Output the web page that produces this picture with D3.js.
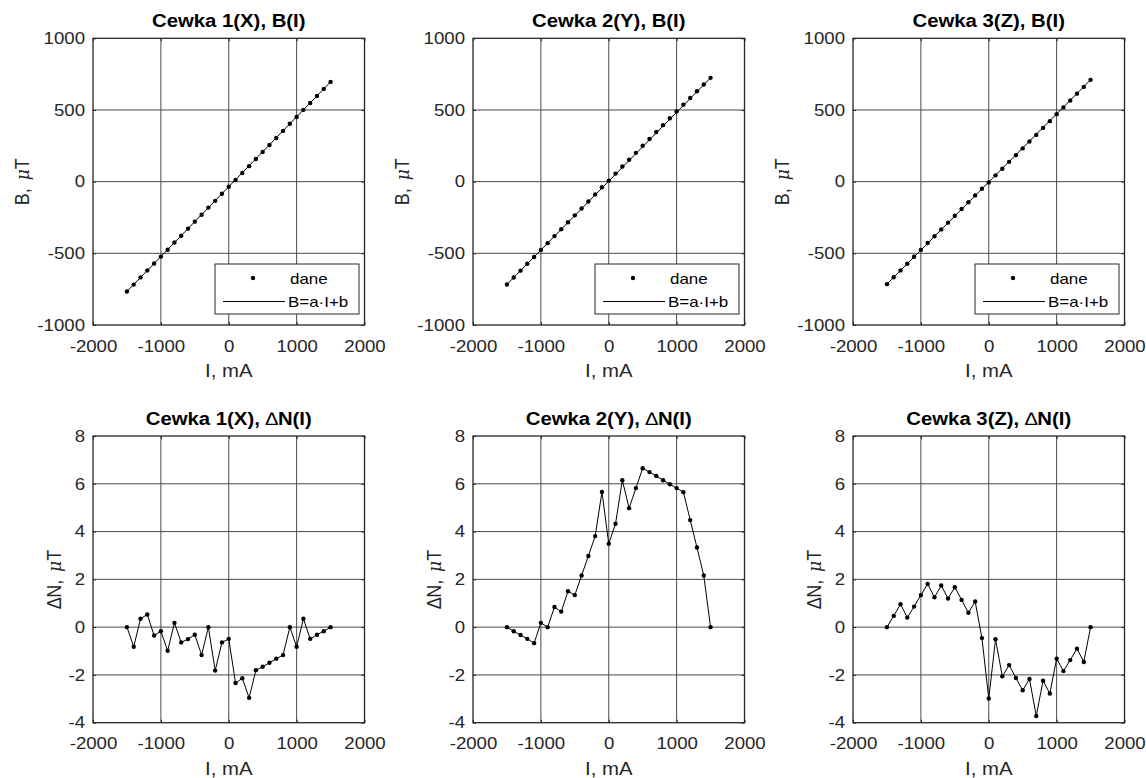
<!DOCTYPE html>
<html>
<head>
<meta charset="utf-8">
<script src="https://cdn.jsdelivr.net/npm/d3@7"></script>
<style>
  html, body { margin: 0; padding: 0; background: #ffffff; }
  svg { display: block; }
  text { font-family: Arial, "Liberation Sans", Helvetica, sans-serif; }
</style>
</head>
<body>
<svg id="chart" width="1146" height="778"></svg>
<script>
// ---------- data ----------
const current = [-1500,-1400,-1300,-1200,-1100,-1000,-900,-800,-700,-600,-500,-400,-300,-200,-100,0,
                 100,200,300,400,500,600,700,800,900,1000,1100,1200,1300,1400,1500];

const bX = [-766,-718,-668,-619,-571,-523,-475,-425,-377,-328,-279,-231,-181,-134,-84,-36,
            11,60,108,158,207,256,305,354,404,451,501,549,598,647,696];
const bY = [-717,-669,-621,-573,-526,-477,-429,-380,-332,-283,-235,-187,-138,-89,-39,7,
            56,106,153,201,250,298,346,394,442,490,537,584,631,678,724];
const bZ = [-715,-667,-619,-572,-524,-476,-428,-381,-333,-286,-238,-191,-144,-96,-50,-6,
            44,90,138,185,232,280,326,375,422,471,518,566,614,661,710];

// fit coefficients B = a*I + b
const fitA = [0.4873, 0.4803, 0.4750];
const fitB = [-35.1, 3.5, -2.5];

const dX = [0,-0.82,0.35,0.53,-0.35,-0.17,-0.99,0.18,-0.64,-0.50,-0.32,-1.17,0,-1.82,-0.64,-0.49,
            -2.34,-2.14,-2.96,-1.80,-1.66,-1.49,-1.32,-1.17,0,-0.82,0.35,-0.49,-0.32,-0.17,0];
const dY = [0,-0.17,-0.33,-0.49,-0.67,0.18,0,0.84,0.65,1.50,1.34,2.16,2.98,3.81,5.66,3.49,
            4.33,6.15,4.98,5.82,6.65,6.49,6.33,6.15,5.98,5.82,5.65,4.48,3.33,2.16,0];
const dZ = [0,0.47,0.96,0.40,0.86,1.34,1.81,1.25,1.74,1.20,1.67,1.14,0.60,1.07,-0.46,-2.99,
            -0.51,-2.06,-1.59,-2.13,-2.64,-2.17,-3.72,-2.24,-2.78,-1.32,-1.84,-1.38,-0.90,-1.46,0];

const coilNames = ["Cewka 1(X)", "Cewka 2(Y)", "Cewka 3(Z)"];
const xTicks = [-2000,-1000,0,1000,2000];
const bTicks = [-1000,-500,0,500,1000];
const dTicks = [-4,-2,0,2,4,6,8];
const legendLabels = ["dane", "B=a\u00B7I+b"];

// ---------- layout ----------
const SX = 1.13;                 // horizontal text stretch of the reference
const lefts = [93, 473, 853];
const tops = [38.3, 436];
const W = 271.5, H = 286.7;
const DARK = "#262626";
const GRID = "#4a4a4a";
const fmt = d => String(d);

const svg = d3.select("#chart");

function stretchText(sel, x, y, rotate) {
  sel.attr("transform", `translate(${x},${y}) scale(${SX},1)` + (rotate ? ` rotate(${rotate})` : ""));
}

function drawPanel(col, row, yDomain, yTicks, parts, series, isB) {
  const g = svg.append("g").attr("transform", `translate(${lefts[col]},${tops[row]})`);
  const x = d3.scaleLinear().domain([-2000, 2000]).range([0, W]);
  const y = d3.scaleLinear().domain(yDomain).range([H, 0]);

  // grid
  g.append("g").selectAll("line").data(xTicks.slice(1, -1)).join("line")
    .attr("x1", d => x(d)).attr("x2", d => x(d)).attr("y1", 0).attr("y2", H)
    .attr("stroke", GRID).attr("stroke-width", 1);
  g.append("g").selectAll("line").data(yTicks.slice(1, -1)).join("line")
    .attr("x1", 0).attr("x2", W).attr("y1", d => y(d)).attr("y2", d => y(d))
    .attr("stroke", GRID).attr("stroke-width", 1);

  // axes
  const ax = g.append("g").attr("transform", `translate(0,${H})`)
    .call(d3.axisBottom(x).tickValues(xTicks).tickSizeInner(-3).tickSizeOuter(0).tickPadding(15).tickFormat(fmt));
  const ay = g.append("g")
    .call(d3.axisLeft(y).tickValues(yTicks).tickSizeInner(-3).tickSizeOuter(0).tickPadding(8).tickFormat(fmt));
  g.append("g").call(d3.axisTop(x).tickValues(xTicks).tickSizeInner(-3).tickSizeOuter(0).tickFormat(""));
  g.append("g").attr("transform", `translate(${W},0)`)
    .call(d3.axisRight(y).tickValues(yTicks).tickSizeInner(-3).tickSizeOuter(0).tickFormat(""));
  g.selectAll(".domain").remove();
  g.selectAll(".tick line").attr("stroke", DARK);
  [ax, ay].forEach(a => a.selectAll("text")
    .attr("fill", DARK).attr("font-size", "16.5px")
    .attr("font-family", "Arial, 'Liberation Sans', sans-serif"));
  ax.selectAll("text").attr("transform", `scale(${SX},1)`);
  ay.selectAll("text").attr("x", -8 / SX).attr("transform", `scale(${SX},1)`);

  // box
  g.append("rect").attr("x", 0).attr("y", 0).attr("width", W).attr("height", H)
    .attr("fill", "none").attr("stroke", DARK).attr("stroke-width", 1.3);

  // data
  const pts = current.map((c, i) => [c, series[i]]);
  if (isB) {
    const a = fitA[col], b = fitB[col];
    const ends = [current[0], current[current.length - 1]];
    g.append("path")
      .attr("d", d3.line().x(d => x(d)).y(d => y(a * d + b))(ends))
      .attr("fill", "none").attr("stroke", "#000").attr("stroke-width", 1);
  } else {
    g.append("path")
      .attr("d", d3.line().x(d => x(d[0])).y(d => y(d[1]))(pts))
      .attr("fill", "none").attr("stroke", "#000").attr("stroke-width", 1);
  }
  g.append("g").selectAll("circle").data(pts).join("circle")
    .attr("cx", d => x(d[0])).attr("cy", d => y(d[1])).attr("r", 2.2).attr("fill", "#000");

  // title
  const t = g.append("text").attr("text-anchor", "middle").attr("font-size", "18px")
    .attr("font-weight", "bold").attr("fill", "#000");
  stretchText(t, W / 2, -11);
  parts.title.forEach(p => t.append("tspan").text(p.t).attr("font-weight", p.n ? "normal" : null));

  // x label
  const xl = g.append("text").attr("text-anchor", "middle").attr("font-size", "18px").attr("fill", DARK).text("I, mA");
  stretchText(xl, W / 2, H + 52);

  // y label
  const yl = g.append("text").attr("text-anchor", "middle").attr("font-size", "18px").attr("fill", DARK)
    .attr("xml:space", "preserve");
  parts.y.forEach(p => yl.append("tspan").text(p.t)
    .attr("font-style", p.i ? "italic" : null)
    .attr("font-family", p.i ? "'DejaVu Serif', 'Liberation Serif', serif" : null)
    .attr("font-size", p.i ? "17px" : null)
    .attr("dx", p.dx || null));
  stretchText(yl, parts.yx, H / 2, -90);

  // legend
  if (isB) {
    const lg = g.append("g").attr("transform", `translate(122,${H - 61})`);
    lg.append("rect").attr("x", 0).attr("y", 0).attr("width", 144).attr("height", 50)
      .attr("fill", "#fff").attr("stroke", DARK).attr("stroke-width", 1);
    lg.append("circle").attr("cx", 38).attr("cy", 14).attr("r", 2.2).attr("fill", "#000");
    lg.append("line").attr("x1", 8).attr("x2", 70).attr("y1", 37.5).attr("y2", 37.5)
      .attr("stroke", "#000").attr("stroke-width", 1);
    const l1 = lg.append("text").attr("font-size", "15px").attr("fill", "#000").text(legendLabels[0]);
    stretchText(l1, 75, 20);
    const l2 = lg.append("text").attr("font-size", "15px").attr("fill", "#000").text(legendLabels[1]);
    stretchText(l2, 73, 43);
  }
}

const bSeries = [bX, bY, bZ];
const dSeries = [dX, dY, dZ];
for (let c = 0; c < 3; c++) {
  drawPanel(c, 0, [-1000, 1000], bTicks,
    { title: [{ t: coilNames[c] + ", B(I)" }],
      y: [{ t: "B," }, { t: "\u03BC", i: true, dx: 8 }, { t: "T" }], yx: -64 },
    bSeries[c], true);
  drawPanel(c, 1, [-4, 8], dTicks,
    { title: [{ t: coilNames[c] + ", " }, { t: "\u2206", n: true }, { t: "N(I)" }],
      y: [{ t: "\u2206N," }, { t: "\u03BC", i: true, dx: 8 }, { t: "T" }], yx: -32 },
    dSeries[c], false);
}
</script>
</body>
</html>
